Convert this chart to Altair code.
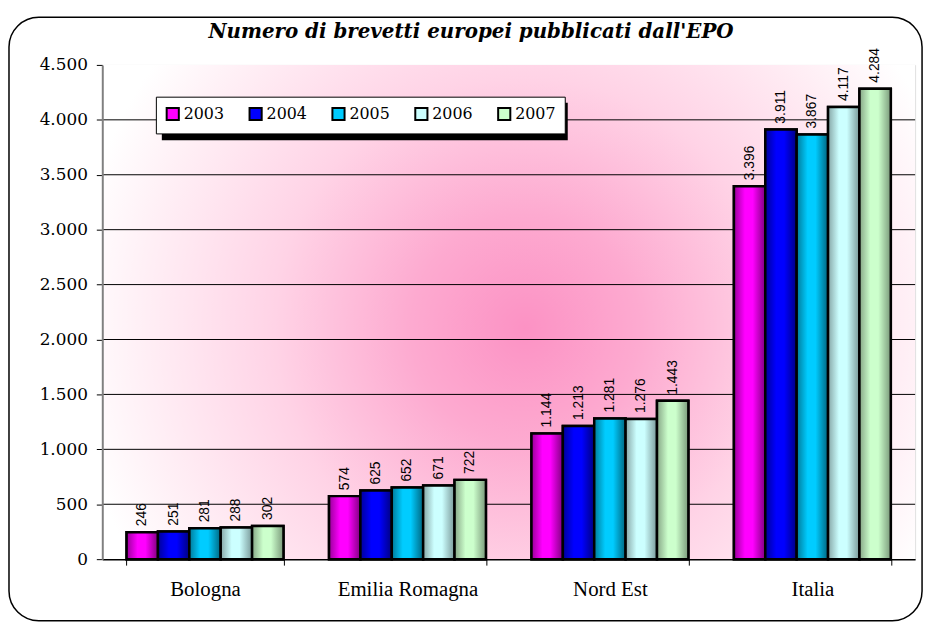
import altair as alt
import pandas as pd

categories = ["Bologna", "Emilia Romagna", "Nord Est", "Italia"]
years = ["2003", "2004", "2005", "2006", "2007"]
v2003 = [246, 574, 1144, 3396]
v2004 = [251, 625, 1213, 3911]
v2005 = [281, 652, 1281, 3867]
v2006 = [288, 671, 1276, 4117]
v2007 = [302, 722, 1443, 4284]
series = [v2003, v2004, v2005, v2006, v2007]
y_ticks = [0, 500, 1000, 1500, 2000, 2500, 3000, 3500, 4000, 4500]

base_colors = ["#FF00FF", "#0000FF", "#00CCFF", "#CCFFFF", "#CCFFCC"]
dark_left = ["#990099", "#000099", "#007A99", "#86A6A6", "#86A686"]
dark_right = ["#800080", "#000080", "#006680", "#7A9999", "#7A997A"]

rows = []
for yr, vals in zip(years, series):
    for c, v in zip(categories, vals):
        rows.append({"categoria": c, "anno": yr, "valore": v})
df = pd.DataFrame(rows)
grid_df = pd.DataFrame({"valore": y_ticks[1:-1]})

W, H = 819, 498

x_enc = alt.X(
    "categoria:N",
    sort=categories,
    scale=alt.Scale(paddingInner=0.225, paddingOuter=0.12),
    axis=alt.Axis(
        title=None, labelAngle=0, labelFont="Liberation Serif", labelFontSize=21,
        labelColor="black", labelPadding=14, tickBand="extent", tickSize=6,
        tickColor="black", domainColor="black", domainWidth=1.5, zindex=1,
    ),
)
xo_enc = alt.XOffset("anno:N", sort=years, scale=alt.Scale(domain=years, paddingInner=0, paddingOuter=0))
y_enc = alt.Y(
    "valore:Q",
    scale=alt.Scale(domain=[0, 4500], nice=False),
    axis=alt.Axis(
        title=None, values=y_ticks,
        labelExpr="replace(format(datum.value, ','), ',', '.')",
        labelFont="DejaVu Serif", labelFontSize=17, labelColor="black", labelPadding=9,
        tickSize=6, tickColor="black", domainColor="#808080", domainWidth=2,
        grid=False, zindex=1,
    ),
)

one = pd.DataFrame({"k": [0]})
frame = alt.Chart(one).mark_rect(
    fillOpacity=0, stroke="black", strokeWidth=1.5, cornerRadius=30
).encode(x=alt.value(-94), x2=alt.value(826), y=alt.value(-48), y2=alt.value(560))

bg = alt.Chart(one).mark_rect(
    fill=alt.RadialGradient(
        gradient="radial", x1=0.52, y1=0.52, r1=0, x2=0.52, y2=0.52, r2=0.56,
        stops=[
            alt.GradientStop(offset=0, color="#FC92C4"),
            alt.GradientStop(offset=0.25, color="#FDAAD0"),
            alt.GradientStop(offset=0.55, color="#FFD3E6"),
            alt.GradientStop(offset=0.85, color="#FFF0F6"),
            alt.GradientStop(offset=1, color="#FFFFFF"),
        ],
    )
).encode(x=alt.value(0), x2=alt.value(W), y=alt.value(0), y2=alt.value(H))

grid = alt.Chart(grid_df).mark_rule(color="black", strokeWidth=1).encode(y=y_enc)

base = alt.Chart(df).mark_bar(stroke="black", strokeWidth=2.5).encode(
    x=x_enc, xOffset=xo_enc, y=y_enc,
    color=alt.Color(
        "anno:N", sort=years,
        scale=alt.Scale(domain=years, range=base_colors),
        legend=alt.Legend(
            title=None, orient="none", legendX=54, legendY=32, direction="horizontal",
            columns=5, fillColor="white", strokeColor="black", padding=9,
            symbolType="square", symbolSize=150, symbolStrokeColor="black",
            symbolStrokeWidth=2, labelFont="DejaVu Serif", labelFontSize=16,
            labelColor="black", columnPadding=20.5, labelOffset=3,
        ),
    ),
)

grad_layers = []
for yr, dl, bc, dr in zip(years, dark_left, base_colors, dark_right):
    grad = alt.LinearGradient(
        gradient="linear", x1=0, y1=0, x2=1, y2=0,
        stops=[
            alt.GradientStop(offset=0, color=dl),
            alt.GradientStop(offset=0.35, color=bc),
            alt.GradientStop(offset=0.6, color=bc),
            alt.GradientStop(offset=1, color=dr),
        ],
    )
    grad_layers.append(
        alt.Chart(df).transform_filter(alt.datum.anno == yr)
        .mark_bar(fill=grad, stroke="black", strokeWidth=2.5)
        .encode(x=x_enc, xOffset=xo_enc, y=y_enc)
    )

labels = alt.Chart(df).transform_calculate(
    etichetta="replace(format(datum.valore, ','), ',', '.')"
).mark_text(
    angle=270, align="left", baseline="middle", dx=6,
    font="Liberation Sans", fontSize=14, color="black",
).encode(x=x_enc, xOffset=xo_enc, y=y_enc, text="etichetta:N")

shadow = alt.Chart(one).mark_rect(fill="black").encode(
    x=alt.value(60), x2=alt.value(469), y=alt.value(38), y2=alt.value(76)
)

chart = alt.layer(frame, bg, grid, base, *grad_layers, labels, shadow).properties(
    width=W, height=H,
    title=alt.TitleParams(
        "Numero di brevetti europei pubblicati dall'EPO",
        font="DejaVu Serif", fontSize=20, fontWeight="bold", fontStyle="italic",
        color="black", anchor="middle", offset=20, dx=-38, dy=46,
    ),
    autosize=alt.AutoSizeParams(type="none"),
    padding={"left": 95, "top": 55, "right": 14, "bottom": 67},
).configure_view(
    stroke="#808080", strokeWidth=2,
).configure(background="white")

chart.save("out.html", embed_options={"renderer": "svg", "actions": False})
